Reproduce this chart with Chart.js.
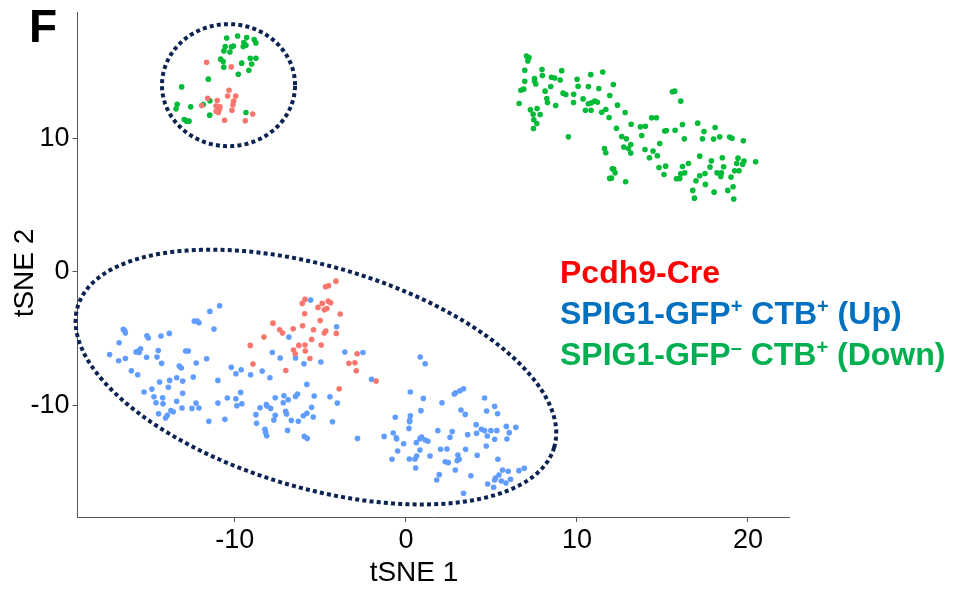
<!DOCTYPE html>
<html>
<head>
    <title>tSNE</title>
    <script src="https://cdn.jsdelivr.net/npm/chart.js@4"></script>
    <style>
        body {
            margin: 0;
            padding: 0;
            background: white;
        }
        #wrap {
            width: 966px;
            height: 592px;
        }
    </style>
</head>
<body>
    <div id="wrap"><canvas id="tsne" width="966" height="592"></canvas></div>
    <script>
        // cell positions (tSNE 1, tSNE 2)
        const pcdh9Cre = [
            [-11.65, 15.73], [-10.21, 15.38], [-10.34, 13.63], [-10.42, 13.20], [-9.95, 13.20], [-10.07, 12.81],
            [-10.11, 12.53], [-10.17, 12.13], [-11.03, 12.86], [-11.59, 13.03], [-11.94, 12.48], [-11.10, 12.45],
            [-10.87, 12.38], [-10.91, 12.18], [-10.97, 11.96], [-11.09, 12.06], [-10.60, 11.38], [-9.39, 11.33],
            [-8.96, 11.85],
            [-4.09, -0.70], [-4.52, -1.05], [-4.70, -1.12], [-5.90, -2.07], [-6.06, -2.37], [-4.89, -2.37],
            [-5.14, -2.67], [-4.54, -2.20], [-4.40, -2.32], [-4.62, -2.75], [-4.77, -2.85], [-5.92, -3.15],
            [-3.84, -3.17], [-5.01, -3.65], [-7.77, -3.85], [-6.04, -4.05], [-6.59, -4.27], [-7.38, -4.35],
            [-7.21, -4.60], [-5.40, -4.35], [-4.68, -4.45], [-4.77, -4.60], [-4.07, -4.62], [-8.30, -4.90],
            [-5.51, -5.07], [-9.10, -5.52], [-6.26, -5.52], [-5.90, -5.50], [-4.95, -5.50], [-6.57, -5.87],
            [-6.47, -6.15], [-5.88, -5.95], [-5.61, -6.50], [-8.94, -6.92], [-7.02, -7.40], [-2.85, -6.15],
            [-3.33, -6.87], [-2.98, -6.82], [-2.90, -7.42], [-1.74, -8.20], [-3.90, -8.77]
        ];

        const spigUp = [
            [-5.57, -2.12], [-4.05, -4.12], [-6.84, -4.90], [-7.81, -6.05], [-7.35, -6.47], [-6.45, -6.47],
            [-5.96, -6.90], [-4.97, -6.77], [-3.57, -6.02], [-2.51, -6.05], [-2.01, -8.07], [-10.89, -2.55],
            [-11.46, -2.97], [-12.37, -3.70], [-12.20, -3.70], [-12.10, -3.82], [-11.22, -4.30], [-16.52, -4.32],
            [-16.44, -4.40], [-16.40, -4.60], [-16.77, -5.32], [-17.32, -6.20], [-16.79, -6.67], [-16.40, -6.50],
            [-15.78, -6.02], [-15.65, -5.95], [-15.51, -5.77], [-15.59, -6.05], [-15.14, -4.80], [-15.06, -4.97],
            [-14.32, -4.82], [-13.83, -4.62], [-14.48, -5.90], [-14.55, -6.40], [-14.28, -6.87], [-15.16, -6.42],
            [-12.88, -5.95], [-12.72, -5.95], [-11.65, -6.52], [-12.26, -6.85], [-16.05, -7.42], [-15.68, -7.72],
            [-13.25, -7.07], [-13.13, -7.22], [-14.40, -8.27], [-13.81, -8.15], [-13.40, -7.95], [-13.05, -8.20],
            [-12.43, -7.90], [-13.89, -8.67], [-15.31, -9.02], [-14.85, -8.80], [-14.73, -9.37], [-14.22, -9.45],
            [-14.61, -9.82], [-14.20, -9.90], [-13.40, -9.72], [-13.05, -9.12], [-13.09, -10.22], [-12.51, -10.25],
            [-12.27, -9.85], [-12.10, -10.22], [-13.74, -10.42], [-13.60, -10.50], [-14.46, -10.65], [-13.95, -10.77],
            [-14.05, -10.97], [-10.99, -8.15], [-10.21, -7.17], [-9.94, -7.65], [-9.63, -7.35], [-9.08, -7.72],
            [-8.40, -7.45], [-7.95, -7.95], [-10.44, -9.47], [-10.99, -9.85], [-9.94, -9.52], [-9.66, -9.05],
            [-9.59, -9.90], [-9.88, -10.05], [-10.58, -11.07], [-11.52, -11.22], [-8.53, -10.20], [-8.16, -9.97],
            [-8.12, -10.07], [-7.91, -10.25], [-8.77, -10.72], [-8.73, -11.37], [-8.24, -11.82], [-8.20, -12.05],
            [-8.14, -12.30], [-7.64, -9.45], [-7.13, -9.30], [-6.88, -9.60], [-6.45, -9.35], [-6.33, -9.17],
            [-5.36, -9.32], [-4.44, -9.37], [-4.01, -9.85], [-7.17, -9.82], [-7.03, -10.47], [-6.98, -10.67],
            [-7.64, -10.77], [-7.72, -11.12], [-6.70, -11.15], [-6.29, -11.22], [-6.00, -10.80], [-5.79, -10.62],
            [-5.51, -10.17], [-5.42, -10.90], [-5.79, -8.45], [-4.29, -11.25], [-6.92, -11.90], [-5.94, -12.35],
            [-5.77, -12.50], [-2.83, -12.50], [-1.27, -12.35],
            [0.84, -6.40], [1.13, -6.90], [0.26, -9.02], [1.02, -9.50], [2.11, -9.82], [2.83, -9.17],
            [2.91, -9.07], [3.16, -8.92], [3.37, -8.77], [4.60, -9.47], [5.19, -10.10], [4.72, -10.45],
            [5.36, -10.65], [3.22, -10.37], [3.47, -10.70], [0.88, -10.42], [-0.62, -10.92], [0.26, -10.80],
            [0.22, -11.15], [0.22, -11.25], [0.18, -11.75], [-0.74, -12.10], [-0.56, -12.45], [-0.54, -12.55],
            [-0.13, -12.90], [-0.48, -13.45], [-0.81, -14.07], [0.20, -14.05], [0.53, -14.05], [0.63, -13.82],
            [0.61, -12.82], [0.82, -12.52], [0.92, -12.40], [0.82, -13.37], [1.13, -12.62], [1.29, -12.72],
            [1.41, -13.82], [0.57, -14.72], [1.87, -11.92], [2.03, -13.32], [2.40, -13.30], [2.58, -12.42],
            [2.71, -11.99], [2.30, -14.25], [2.48, -14.32], [3.04, -13.75], [3.12, -14.07], [3.00, -14.17],
            [3.49, -13.32], [3.61, -12.22], [2.89, -14.87], [1.95, -15.22], [1.80, -15.62], [3.37, -16.62],
            [3.80, -15.30], [4.17, -13.77], [4.11, -11.47], [4.13, -12.12], [4.41, -11.82], [4.60, -11.92],
            [4.76, -12.32], [4.97, -11.92], [4.70, -13.07], [5.32, -11.92], [5.19, -12.57], [5.87, -11.60],
            [6.04, -12.07], [5.91, -12.55], [6.43, -11.67], [5.38, -14.07], [5.65, -14.87], [5.98, -14.97],
            [6.61, -14.92], [6.92, -14.75], [5.24, -15.47], [5.44, -15.25], [5.19, -15.62], [4.78, -15.92],
            [5.13, -16.17], [5.58, -15.70], [5.85, -15.85], [6.12, -15.57]
        ];

        const spigDown = [
            [-10.48, 17.55], [-9.84, 17.70], [-9.31, 17.58], [-8.87, 17.43], [-8.77, 17.18], [-9.47, 17.21],
            [-9.35, 17.01], [-9.51, 16.91], [-10.09, 16.95], [-10.19, 16.88], [-10.56, 16.91], [-10.64, 16.58],
            [-10.29, 16.50], [-10.83, 15.96], [-10.68, 15.78], [-10.65, 15.36], [-9.60, 15.66], [-9.10, 16.03],
            [-8.77, 16.03], [-9.02, 15.60], [-9.18, 15.13], [-9.80, 14.83], [-11.55, 14.46], [-13.11, 13.88],
            [-11.46, 12.83], [-11.85, 12.56], [-13.37, 12.58], [-13.44, 12.23], [-12.58, 12.38], [-11.47, 11.76],
            [-9.35, 11.96], [-12.96, 11.43], [-12.82, 11.31], [-12.68, 11.31],
            [7.05, 16.20], [7.20, 16.08], [7.13, 15.83], [6.95, 15.13], [7.96, 15.18], [7.98, 14.73],
            [9.11, 15.10], [8.51, 14.60], [8.70, 14.55], [9.02, 14.40], [10.01, 14.45], [10.81, 14.80],
            [11.51, 15.00], [7.52, 14.50], [7.52, 14.33], [7.59, 14.10], [6.95, 14.30], [6.72, 13.63],
            [6.89, 13.71], [8.14, 13.56], [8.47, 13.91], [10.07, 13.93], [10.67, 13.91], [11.28, 13.76],
            [12.13, 14.06], [6.62, 12.63], [8.24, 13.01], [8.28, 12.71], [8.76, 12.48], [9.19, 13.41],
            [9.35, 13.31], [9.81, 13.33], [9.80, 12.71], [10.36, 12.98], [10.67, 12.61], [10.85, 12.68],
            [11.04, 12.81], [11.20, 12.73], [11.92, 13.23], [7.28, 12.16], [7.67, 12.26], [7.44, 11.83],
            [7.85, 11.81], [7.48, 11.41], [7.65, 11.13], [7.46, 10.76], [10.50, 12.13], [10.83, 12.13],
            [11.45, 11.98], [11.69, 12.18], [11.88, 11.58], [12.37, 12.51], [12.82, 11.96], [9.50, 10.13],
            [12.31, 10.78], [12.62, 10.16], [12.89, 9.98], [13.17, 11.08], [13.71, 10.88], [14.00, 10.93],
            [14.37, 11.56], [14.65, 11.56], [13.79, 10.23], [11.61, 9.26], [11.69, 8.93], [12.74, 9.36],
            [13.01, 9.26], [13.15, 9.56], [13.15, 8.91], [13.98, 9.18], [14.24, 8.56], [14.45, 9.06],
            [14.70, 8.71], [14.84, 9.63], [12.07, 7.73], [12.15, 7.71], [12.23, 7.43], [11.92, 7.01],
            [12.02, 7.03], [12.85, 6.76], [15.13, 10.56], [15.23, 10.61], [15.74, 10.63], [15.58, 13.51],
            [15.72, 13.56], [16.07, 12.81], [16.17, 11.06], [16.28, 9.98], [17.06, 11.16], [17.43, 10.53],
            [17.34, 9.98], [18.08, 10.83], [18.35, 10.13], [17.99, 9.96], [18.93, 10.11], [19.07, 10.03],
            [19.73, 9.83], [14.80, 7.83], [15.19, 7.93], [15.09, 7.31], [15.82, 6.98], [16.01, 7.01],
            [16.07, 7.36], [16.30, 7.43], [16.52, 8.13], [16.17, 7.91], [17.18, 8.68], [17.86, 8.33],
            [18.50, 8.56], [17.78, 7.86], [18.58, 7.88], [19.42, 8.53], [19.77, 8.31], [19.69, 8.08],
            [20.45, 8.26], [19.34, 8.13], [19.48, 7.58], [19.22, 7.58], [18.19, 7.43], [18.45, 7.43],
            [18.41, 7.16], [19.01, 7.11], [17.18, 7.21], [16.96, 6.83], [17.49, 7.38], [17.51, 6.56],
            [16.77, 6.11], [16.87, 5.53], [18.02, 5.98], [18.82, 6.11], [19.13, 6.38], [19.17, 5.46]
        ];

        const xTicks = [-10, 0, 10, 20];
        const yTicks = [-10, 0, 10];
        const groupNames = ['Pcdh9-Cre', 'SPIG1-GFP+ CTB+ (Up)', 'SPIG1-GFP- CTB+ (Down)'];
        const pointColors = ['#F8766D', '#619CFF', '#00BA38'];

        // dotted outlines round the clusters, in data units (centre, two half-axis vectors)
        const ringSmall = { c: [-10.37, 14.01], u: [3.89, 0], v: [0, 4.58] };
        const ringBig = { c: [-5.26, -7.90], u: [13.93, -5.28], v: [-1.84, -7.97] };

        const toXY = arr => arr.map(p => ({ x: p[0], y: p[1] }));

        const rings = {
            id: 'rings',
            afterDatasetsDraw(chart) {
                const ctx = chart.ctx;
                const sx = chart.scales.x, sy = chart.scales.y;
                ctx.save();
                ctx.strokeStyle = '#0c2352';
                ctx.lineWidth = 4;
                ctx.setLineDash([4, 3.2]);
                [ringSmall, ringBig].forEach(r => {
                    ctx.beginPath();
                    for (let i = 0; i <= 360; i++) {
                        const t = i * Math.PI / 180;
                        const dx = r.c[0] + r.u[0] * Math.cos(t) + r.v[0] * Math.sin(t);
                        const dy = r.c[1] + r.u[1] * Math.cos(t) + r.v[1] * Math.sin(t);
                        const px = sx.getPixelForValue(dx), py = sy.getPixelForValue(dy);
                        if (i === 0) ctx.moveTo(px, py); else ctx.lineTo(px, py);
                    }
                    ctx.stroke();
                });
                ctx.restore();
            }
        };

        // labels: panel letter, axis titles and the coloured key
        const labels = {
            id: 'labels',
            afterDraw(chart) {
                const ctx = chart.ctx;
                ctx.save();
                ctx.fillStyle = '#000';
                ctx.textBaseline = 'alphabetic';
                ctx.font = 'bold 46px "Liberation Sans", Arial, sans-serif';
                ctx.fillText('F', 29, 42);

                ctx.font = '28px "Liberation Sans", Arial, sans-serif';
                ctx.textAlign = 'center';
                ctx.fillText('tSNE 1', 414, 581);
                ctx.save();
                ctx.translate(33, 273);
                ctx.rotate(-Math.PI / 2);
                ctx.fillText('tSNE 2', 0, 0);
                ctx.restore();

                ctx.textAlign = 'left';
                const big = 'bold 32px "Liberation Sans", Arial, sans-serif';
                const sup = 'bold 20px "Liberation Sans", Arial, sans-serif';
                const keyX = 560;
                const lines = [
                    [[groupNames[0], 0]],
                    [['SPIG1-GFP', 0], ['+', 1], [' CTB', 0], ['+', 1], [' (Up)', 0]],
                    [['SPIG1-GFP', 0], ['\u2013', 1], [' CTB', 0], ['+', 1], [' (Down)', 0]]
                ];
                const keyColors = ['#ff0000', '#0070c0', '#00b050'];
                const baselines = [283, 324, 365];
                lines.forEach((parts, i) => {
                    let x = keyX;
                    ctx.fillStyle = keyColors[i];
                    parts.forEach(([txt, raised]) => {
                        ctx.font = raised ? sup : big;
                        ctx.fillText(txt, x, baselines[i] - (raised ? 11 : 0));
                        x += ctx.measureText(txt).width;
                    });
                });
                ctx.restore();
            }
        };

        const axisFont = { family: '"Liberation Sans", Arial, sans-serif', size: 27 };

        new Chart(document.getElementById('tsne'), {
            type: 'scatter',
            data: {
                datasets: [
                    { label: groupNames[0], data: toXY(pcdh9Cre), backgroundColor: pointColors[0] },
                    { label: groupNames[1], data: toXY(spigUp), backgroundColor: pointColors[1] },
                    { label: groupNames[2], data: toXY(spigDown), backgroundColor: pointColors[2] }
                ]
            },
            options: {
                responsive: false,
                animation: false,
                elements: { point: { radius: 2.8, borderWidth: 0, hoverRadius: 2.8 } },
                layout: { padding: { left: 0, right: 177, top: 12, bottom: 0 } },
                plugins: { legend: { display: false }, tooltip: { enabled: false } },
                scales: {
                    x: {
                        type: 'linear',
                        min: -19.2,
                        max: 22.4,
                        afterFit: s => { s.height = 75; s.paddingLeft = 0; s.paddingRight = 0; },
                        afterBuildTicks: s => { s.ticks = xTicks.map(v => ({ value: v })); },
                        ticks: { font: axisFont, color: '#000', padding: 2, maxRotation: 0 },
                        grid: { drawOnChartArea: false, tickLength: 5, color: '#555' },
                        border: { color: '#555', width: 1 }
                    },
                    y: {
                        type: 'linear',
                        min: -18.4,
                        max: 19.5,
                        afterFit: s => { s.width = 77.5; s.paddingTop = 0; s.paddingBottom = 0; },
                        afterBuildTicks: s => { s.ticks = yTicks.map(v => ({ value: v })); },
                        ticks: { font: axisFont, color: '#000', padding: 3 },
                        grid: { drawOnChartArea: false, tickLength: 5, color: '#555' },
                        border: { color: '#555', width: 1 }
                    }
                }
            },
            plugins: [rings, labels]
        });
    </script>
</body>
</html>
